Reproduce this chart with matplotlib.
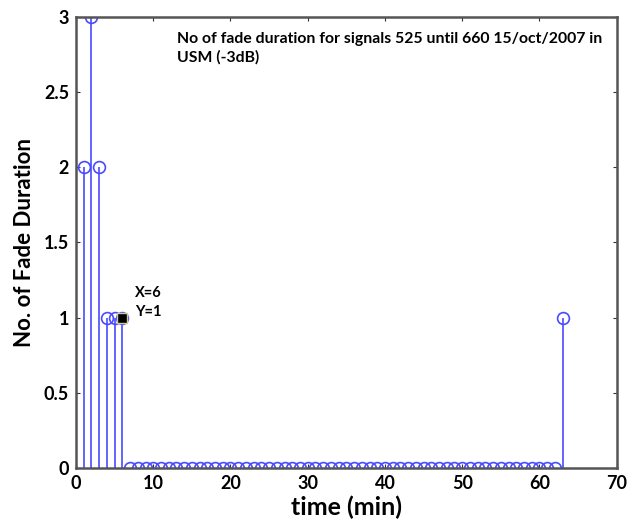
import matplotlib
matplotlib.use("Agg")
import matplotlib.pyplot as plt
import numpy as np

# fade-duration counts per minute
time_min = list(range(1, 64))
fade_counts = [2, 3, 2, 1, 1, 1] + [0] * 56 + [1]

x_ticks = [0, 10, 20, 30, 40, 50, 60, 70]
y_ticks = [0, 0.5, 1, 1.5, 2, 2.5, 3]
y_tick_labels = ["0", "0.5", "1", "1.5", "2", "2.5", "3"]

tip_x, tip_y = 6, 1

plt.rcParams['font.family'] = ['Lato', 'DejaVu Sans']

fig = plt.figure(figsize=(6.28, 5.31), dpi=100)
ax = fig.add_axes([0.121, 0.119, 0.861, 0.849])

stem_color = "#4a4aff"
markerline, stemlines, baseline = ax.stem(time_min, fade_counts, basefmt=" ")
plt.setp(stemlines, color=stem_color, linewidth=1.2)
plt.setp(markerline, marker="o", markersize=8.5, markerfacecolor="none",
         markeredgecolor=stem_color, markeredgewidth=1.2, linestyle="none")

# data tip
ax.plot([tip_x], [tip_y], marker="s", markersize=7, color="black",
        markeredgecolor="#cccc99", linestyle="none", zorder=5)
ax.text(tip_x + 1.6, 1.164, f"X={tip_x}", fontsize=10.5,
        fontweight="bold", ha="left", va="center")
ax.text(tip_x + 1.6, 1.038, f"Y={tip_y}", fontsize=10.5,
        fontweight="bold", ha="left", va="center")

ax.text(13.1, 2.9, "No of fade duration for signals 525 until 660 15/oct/2007 in\nUSM (-3dB)",
        fontsize=11.3, fontweight="bold", ha="left", va="top", linespacing=1.35)

ax.set_xlim(0, 70)
ax.set_ylim(0, 3)
ax.set_xticks(x_ticks)
ax.set_yticks(y_ticks)
ax.set_yticklabels(y_tick_labels)
ax.tick_params(direction="in", length=3, width=0.8, top=True, right=True,
               labelsize=13, pad=5, color="#333333")
for lbl in ax.get_xticklabels() + ax.get_yticklabels():
    lbl.set_fontweight("bold")
for sp in ax.spines.values():
    sp.set_linewidth(1.8)
    sp.set_color("#555555")

ax.set_xlabel("time (min)", fontsize=18, fontweight="bold", labelpad=3)
ax.set_ylabel("No. of Fade Duration", fontsize=16, fontweight="bold", labelpad=6)

fig.savefig("out.png", dpi=100, facecolor="white")
